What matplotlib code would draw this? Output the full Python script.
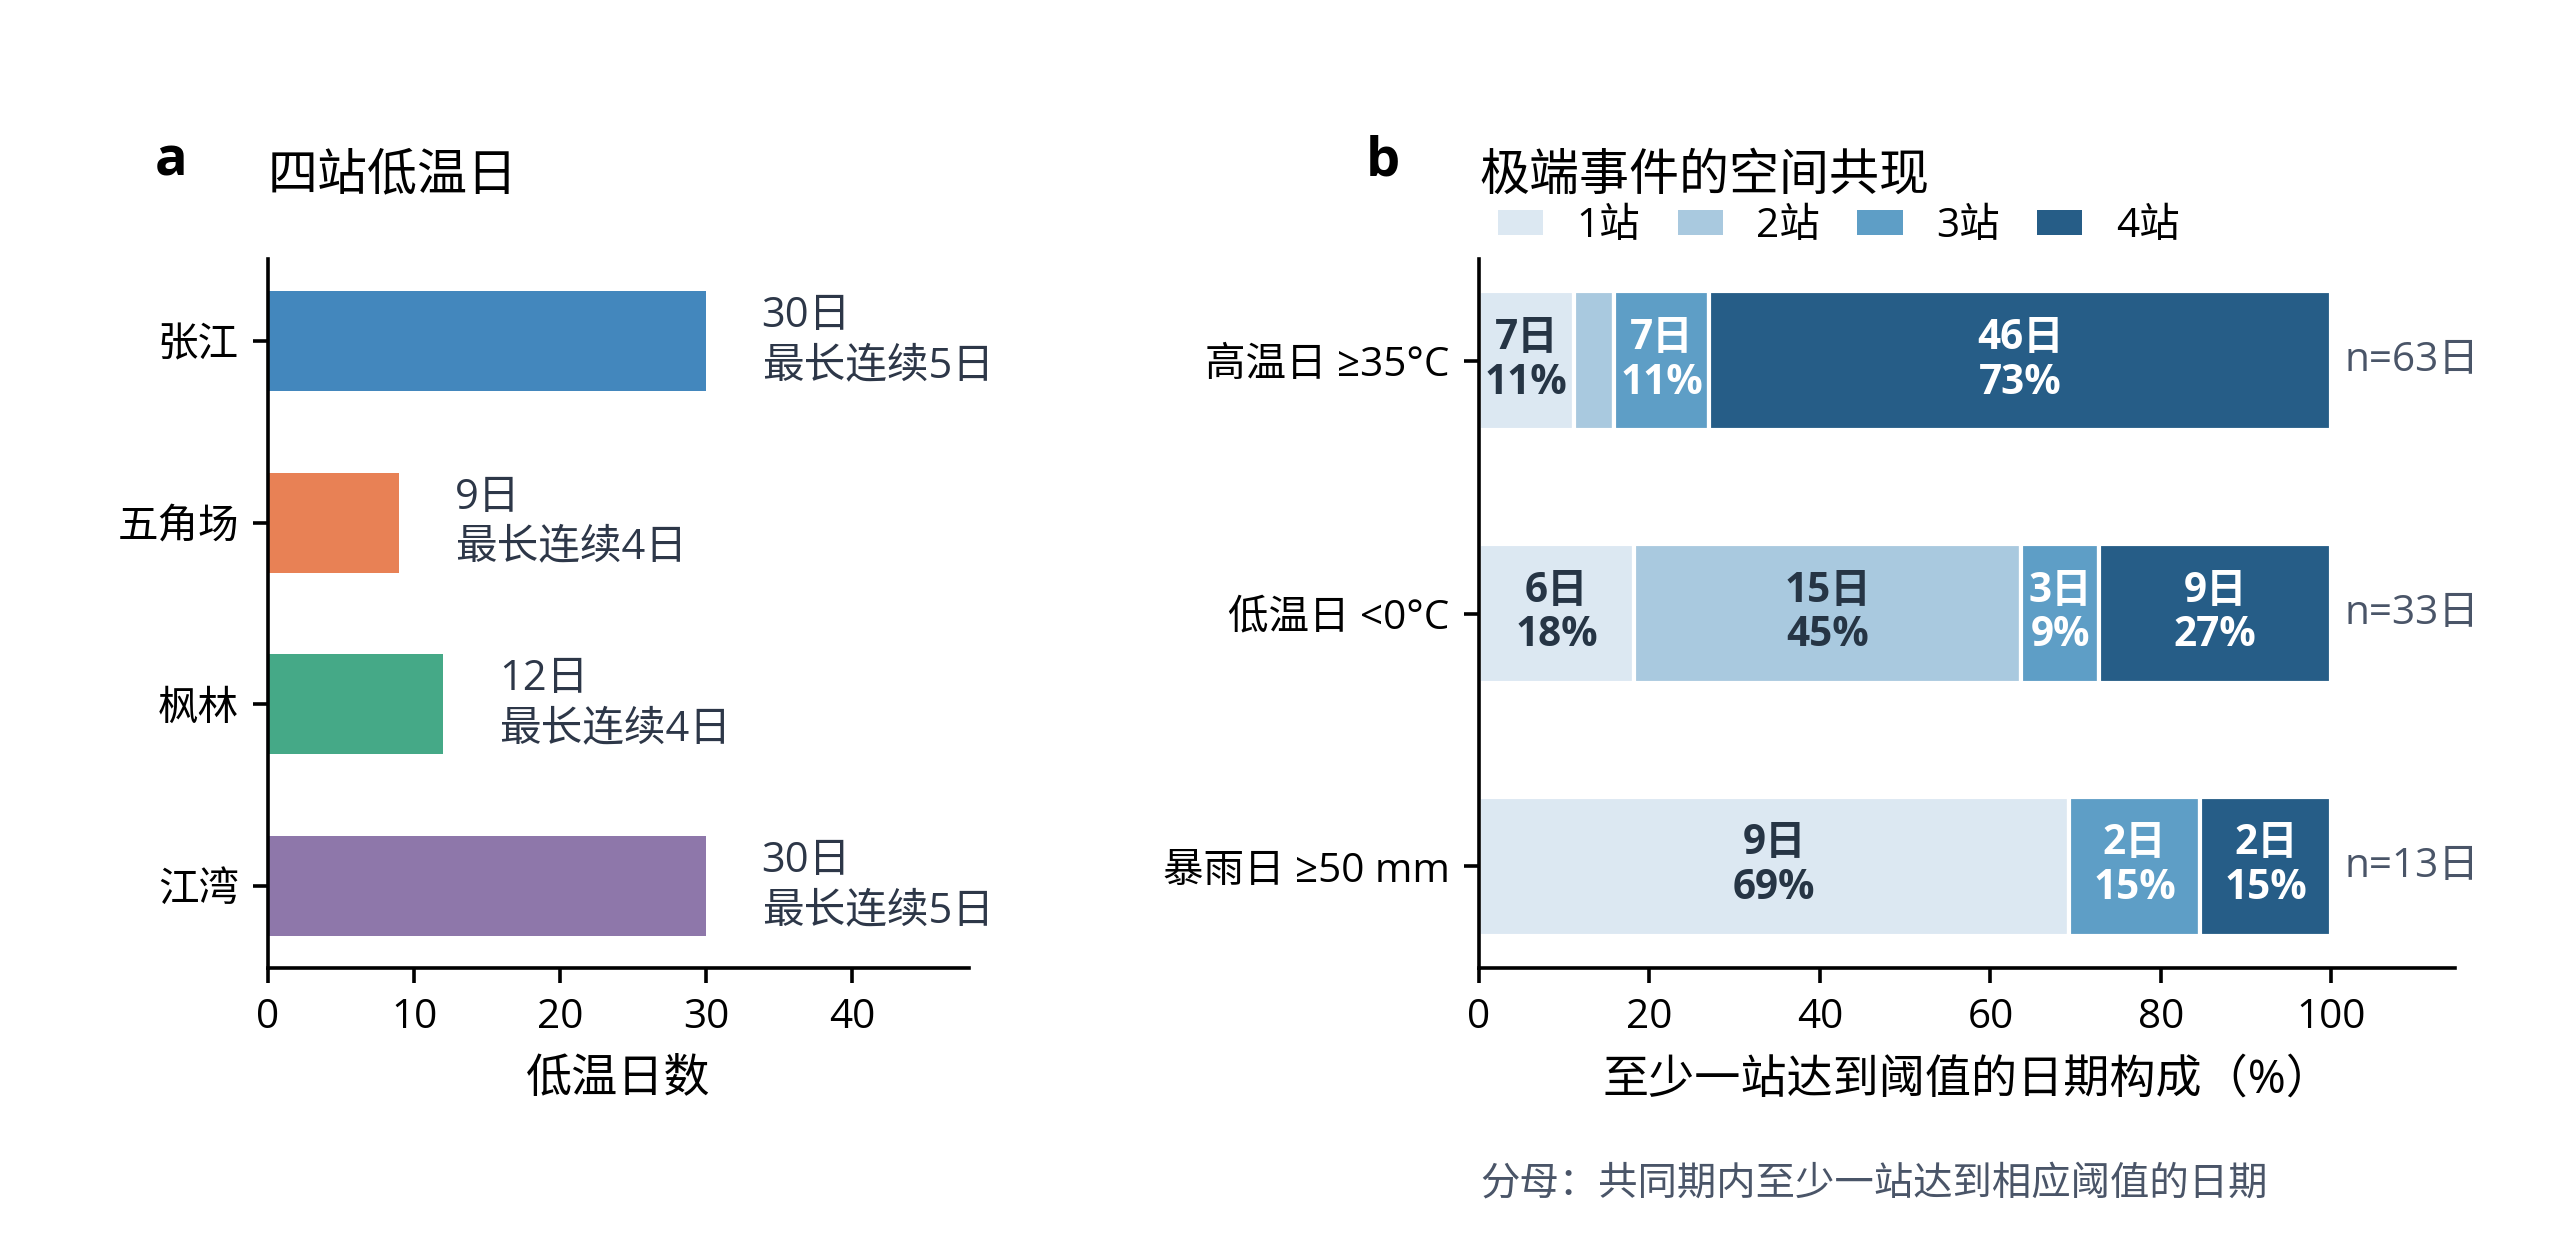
import numpy as np
import matplotlib
matplotlib.use("Agg")
import matplotlib.pyplot as plt
from matplotlib.patches import Patch

plt.rcParams['font.family'] = ['Open Sans', 'Noto Sans CJK SC', 'DejaVu Sans']

# panel a data
stations = ["张江", "五角场", "枫林", "江湾"]
cold_days = [30, 9, 12, 30]
max_run = [5, 4, 4, 5]
st_colors = ["#4387BD", "#E88155", "#45A987", "#8E77AA"]

# panel b data
events = ["高温日 ≥35°C", "低温日 <0°C", "暴雨日 ≥50 mm"]
n_st = ["1站", "2站", "3站", "4站"]
cnt1 = [7, 6, 9]
cnt2 = [3, 15, 0]
cnt3 = [7, 3, 2]
cnt4 = [46, 9, 2]
seg_colors = ["#DCE8F2", "#A9C9DF", "#5E9EC6", "#265D87"]
txt_colors = ["#263545", "#263545", "white", "white"]

W, H, DPI = 2551, 1240, 200
fig = plt.figure(figsize=(W / DPI, H / DPI), dpi=DPI)

ax1 = fig.add_axes([268 / W, 1 - 968 / H, (969 - 268) / W, (968 - 259) / H])
ax2 = fig.add_axes([1479 / W, 1 - 968 / H, (2455 - 1479) / W, (968 - 259) / H])

for ax in (ax1, ax2):
    ax.spines['top'].set_visible(False)
    ax.spines['right'].set_visible(False)
    for s in ('left', 'bottom'):
        ax.spines[s].set_linewidth(1.3)
    ax.tick_params(labelsize=14.6, length=5.5, width=1.3, pad=5)

# ---- a
y = np.arange(len(stations))
ax1.barh(y, cold_days, height=0.55, color=st_colors)
ax1.set_yticks(y)
ax1.set_yticklabels(stations)
ax1.invert_yaxis()
ax1.set_xlim(0, 48)
ax1.set_xticks([0, 10, 20, 30, 40])
ax1.set_xlabel("低温日数", fontsize=16.6, labelpad=7)
for i in range(len(stations)):
    ax1.text(cold_days[i] + 3.8, y[i], f"{cold_days[i]}日\n最长连续{max_run[i]}日",
             va='center', ha='left', fontsize=15, color="#2D3748", linespacing=1.25)
ax1.set_title("四站低温日", loc='left', fontsize=18, pad=25)

# ---- b
counts = np.array([cnt1, cnt2, cnt3, cnt4], dtype=float)
tot = counts.sum(axis=0)
pct = counts / tot * 100
yb = np.arange(len(events))
left = np.zeros(len(events))
for k in range(4):
    ax2.barh(yb, pct[k], left=left, height=0.55, color=seg_colors[k],
             edgecolor='white', linewidth=1.5, label=n_st[k])
    for i in range(len(events)):
        if pct[k][i] >= 6:
            ax2.text(left[i] + pct[k][i] / 2, yb[i],
                     f"{int(counts[k][i])}日\n{pct[k][i]:.0f}%",
                     ha='center', va='center', fontsize=14.6, fontweight='bold',
                     color=txt_colors[k], linespacing=1.12)
    left += pct[k]
for i in range(len(events)):
    ax2.text(101.5, yb[i], f"n={int(tot[i])}日", va='center', ha='left',
             fontsize=14.6, color="#4A5568")
ax2.set_yticks(yb)
ax2.set_yticklabels(events)
ax2.invert_yaxis()
ax2.set_xlim(0, 114.5)
ax2.set_xticks([0, 20, 40, 60, 80, 100])
ax2.set_xlabel("至少一站达到阈值的日期构成（%）", fontsize=16.6, labelpad=7)
ax2.set_title("极端事件的空间共现", loc='left', fontsize=18, pad=25)

handles = [Patch(facecolor=c, label=l) for c, l in zip(seg_colors, n_st)]
ax2.legend(handles=handles, loc='center left', bbox_to_anchor=(0.0195, 1.046),
           ncol=4, frameon=False, fontsize=14.6, borderpad=0, borderaxespad=0,
           handlelength=1.12, handleheight=0.55, handletextpad=0.82,
           columnspacing=0.92)

fig.text(155 / W, 1 - 176 / H, "a", fontsize=19.5, fontweight='bold', va='baseline')
fig.text(1366 / W, 1 - 176 / H, "b", fontsize=19.5, fontweight='bold', va='baseline')
fig.text(1480 / W, 1 - 1184 / H, "分母：共同期内至少一站达到相应阈值的日期",
         fontsize=14.2, color="#4A5568", va='center', ha='left')

fig.savefig("out.png", dpi=DPI)
